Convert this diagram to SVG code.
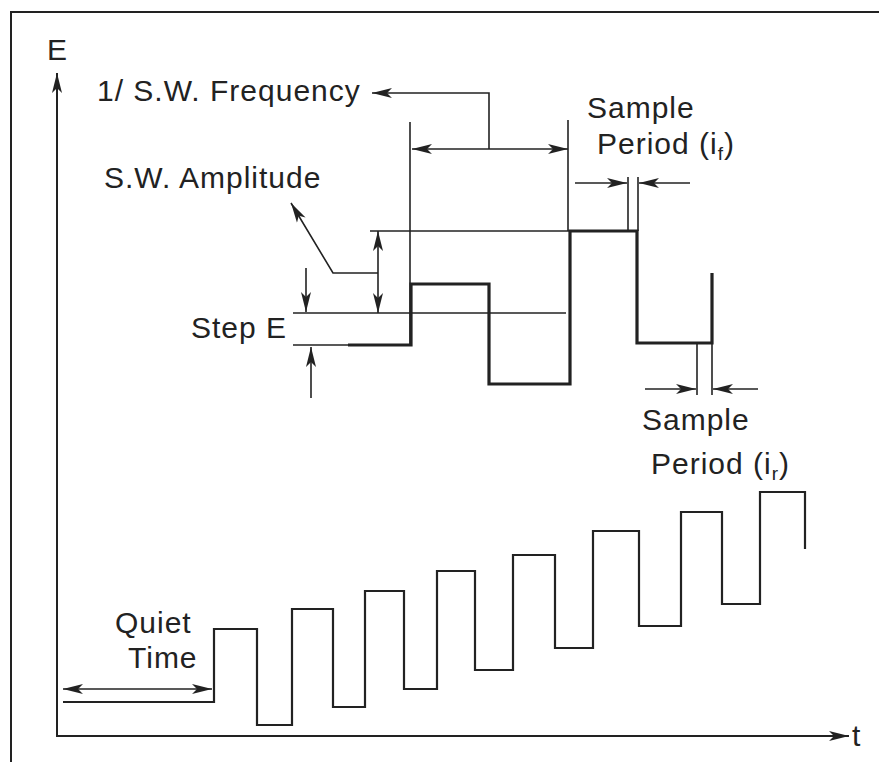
<svg xmlns="http://www.w3.org/2000/svg" width="879" height="762" viewBox="0 0 879 762">
<defs>
<marker id="ah" markerUnits="userSpaceOnUse" markerWidth="20" markerHeight="12" viewBox="0 0 20 12" refX="20" refY="6" orient="auto-start-reverse">
<path d="M0,1 L20,6 L0,11 L5,6 z" fill="#222"/>
</marker>
</defs>
<style>
.t{font-family:"Liberation Sans",Arial,sans-serif;font-size:30px;fill:#222;letter-spacing:1px}
.s{font-size:19px}
.thin{fill:none;stroke:#222;stroke-width:1.6}
.ax{fill:none;stroke:#222;stroke-width:2}
.thick{fill:none;stroke:#222;stroke-width:3.2;stroke-linejoin:miter}
.wave{fill:none;stroke:#222;stroke-width:2.2;stroke-linejoin:miter}
</style>
<rect width="879" height="762" fill="#fff"/>
<g id="frame">
<path class="ax" d="M879,12 H11 V762"/>
</g>
<g id="connectors">
<path class="ax" d="M57,737 V73" marker-end="url(#ah)"/>
<path class="ax" d="M57,736 H849" marker-end="url(#ah)"/>
<path class="thin" d="M489,149 V93 H372" marker-end="url(#ah)"/>
<path class="thin" d="M412,149 H568" marker-start="url(#ah)" marker-end="url(#ah)"/>
<path class="thin" d="M410,122 V345"/>
<path class="thin" d="M568,120 V231"/>
<path class="thin" d="M628,177 V231"/>
<path class="thin" d="M638,177 V231"/>
<path class="thin" d="M575,183 H627" marker-end="url(#ah)"/>
<path class="thin" d="M690,183 H639" marker-end="url(#ah)"/>
<path class="thin" d="M370,231 H570"/>
<path class="thin" d="M293,313 H566"/>
<path class="thin" d="M378,231 V313" marker-start="url(#ah)" marker-end="url(#ah)"/>
<path class="thin" d="M378,273 H333 L291,203" marker-end="url(#ah)"/>
<path class="thin" d="M306,268 V312" marker-end="url(#ah)"/>
<path class="thin" d="M311,398 V347" marker-end="url(#ah)"/>
<path class="thin" d="M697,343 V395"/>
<path class="thin" d="M712,343 V395"/>
<path class="thin" d="M645,389 H696" marker-end="url(#ah)"/>
<path class="thin" d="M758,389 H713" marker-end="url(#ah)"/>
<path class="thin" d="M63,689 H212" marker-start="url(#ah)" marker-end="url(#ah)"/>
</g>
<g id="sw-detail">
<path class="thin" d="M293,345 H350"/>
<path class="thick" d="M348,345 H411 V284 H489 V384 H570 V231 H637 V343 H712 V273"/>
</g>
<g id="sw-waveform">
<path class="wave" d="M63,702 H214 V629 H257 V725 H292 V609 H333 V707 H365 V591 H404 V689 H437 V571 H475 V670 H513 V555 H555 V648 H593 V531 H639 V626 H681 V512 H722 V604 H760 V492 H805 V549"/>
</g>
<g id="label-E"><text class="t" x="47" y="60">E</text></g>
<g id="label-t"><text class="t" x="852" y="746">t</text></g>
<g id="label-freq"><text class="t" x="97" y="101">1/ S.W. Frequency</text></g>
<g id="label-amp"><text class="t" x="104" y="188">S.W. Amplitude</text></g>
<g id="label-step"><text class="t" x="191" y="338">Step E</text></g>
<g id="label-sample-f"><text class="t" x="587" y="118">Sample</text><text class="t" x="597" y="154">Period (i<tspan class="s" dy="6">f</tspan><tspan dy="-6">)</tspan></text></g>
<g id="label-sample-r"><text class="t" x="642" y="430">Sample</text><text class="t" x="651" y="474">Period (i<tspan class="s" dy="6">r</tspan><tspan dy="-6">)</tspan></text></g>
<g id="label-quiet"><text class="t" x="115" y="633">Quiet</text><text class="t" x="128" y="668">Time</text></g>
</svg>
